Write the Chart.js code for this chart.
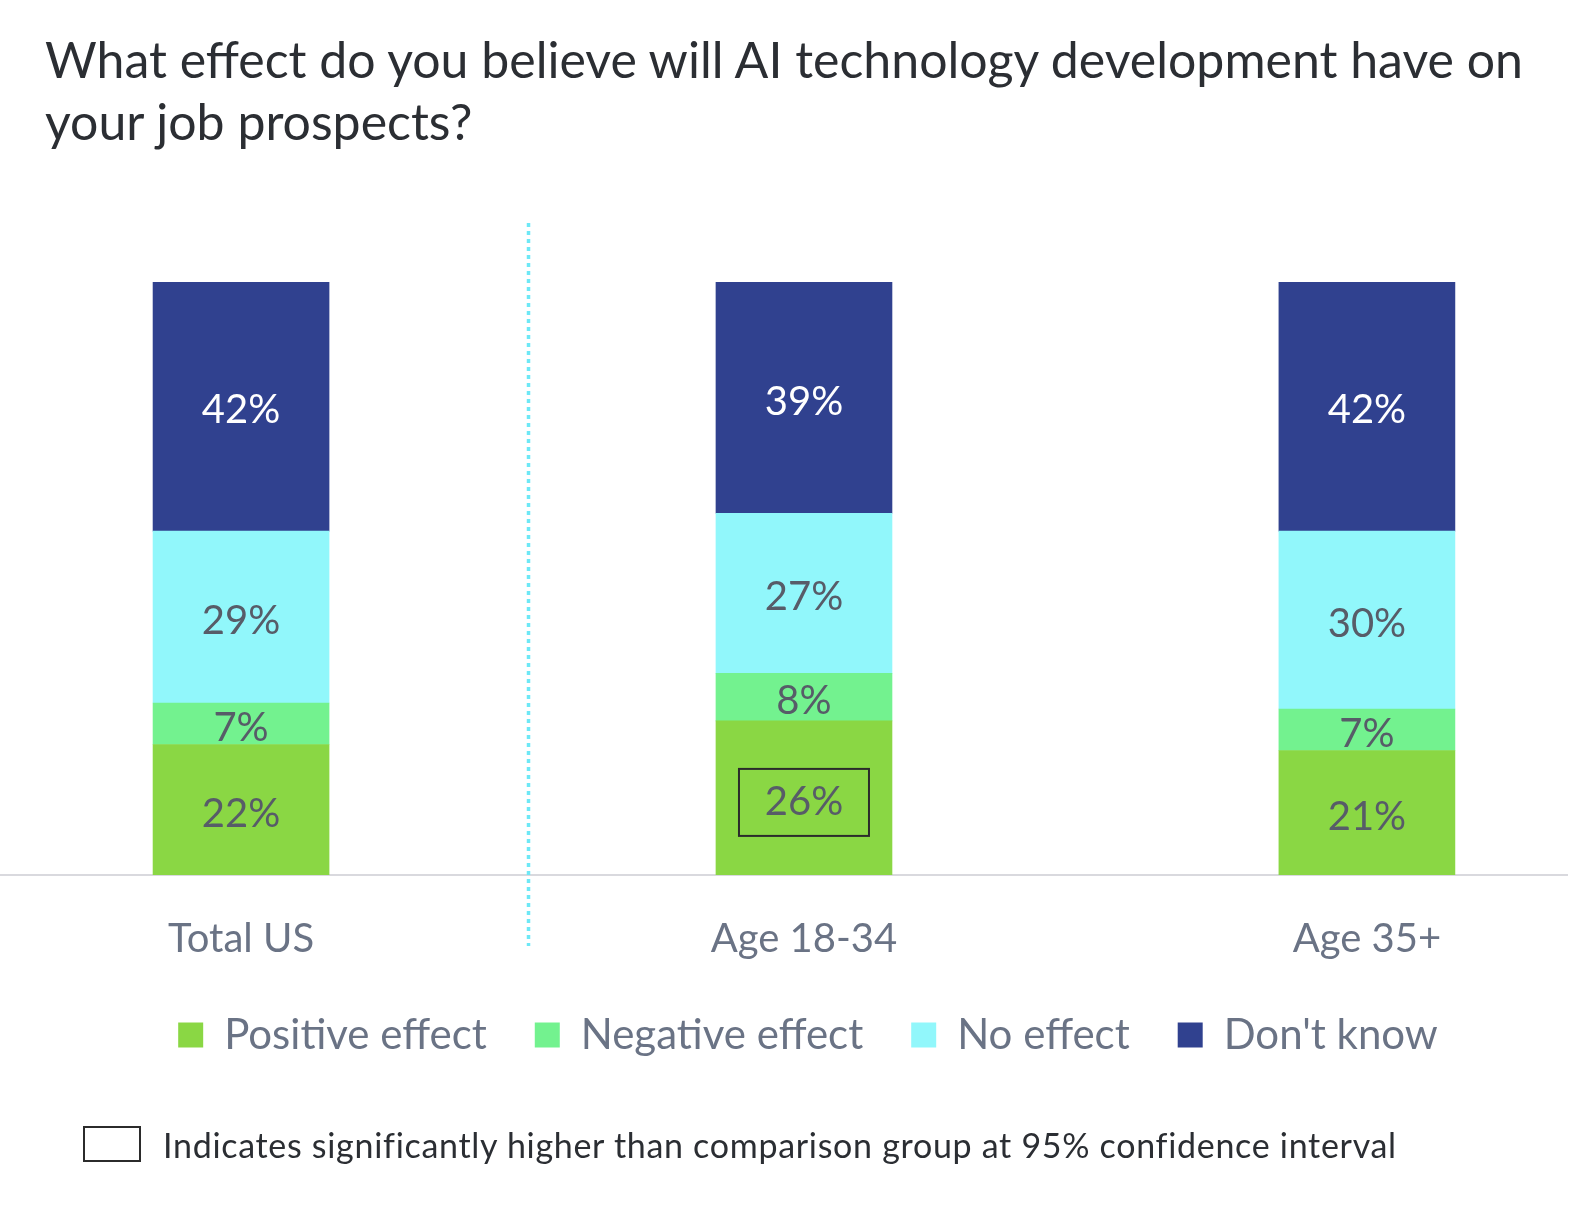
<!DOCTYPE html>
<html>
<head>
<meta charset="utf-8">
<script src="https://cdn.jsdelivr.net/npm/chart.js@4/dist/chart.umd.min.js"></script>
<style>
  html, body { margin: 0; padding: 0; background: #fff; }
  #wrap { position: relative; width: 1576px; height: 1226px; overflow: hidden; }
  #chart { position: absolute; left: 0; top: 0; }
  #title {
    position: absolute; left: 45px; top: 28px; width: 1520px;
    font-family: Lato, sans-serif; font-size: 50px; line-height: 62px; color: #2b2e33;
  }
  #note {
    position: absolute; left: 83px; top: 1126px; height: 36px;
    font-family: Lato, sans-serif; font-size: 34px; letter-spacing: 0.7px; color: #2b2e33;
    display: flex; align-items: center; white-space: nowrap;
  }
  #note .box { width: 54px; height: 32px; border: 2px solid #2b2b2b; margin-right: 22px; }
</style>
</head>
<body>
<div id="wrap">
  <canvas id="chart" width="1576" height="1226"></canvas>
  <div id="title">What effect do you believe will AI technology development have on your job prospects?</div>
  <div id="note"><div class="box"></div><span>Indicates significantly higher than comparison group at 95% confidence interval</span></div>
</div>
<script>
const categories = ['Total US', 'Age 18-34', 'Age 35+'];
const seriesNames = ['Positive effect', 'Negative effect', 'No effect', "Don't know"];
const positive = [22, 26, 21];
const negative = [7, 8, 7];
const noEffect = [29, 27, 30];
const dontKnow = [42, 39, 42];
// which value gets the "significantly higher" box: [series, category]
const significant = [[0, 1]];

const colors = ['#8ad744', '#73f28f', '#91f7fb', '#30418f'];
const labelColors = ['#575c68', '#575c68', '#575c68', '#ffffff'];
const FONT = 'Lato, sans-serif';

const values = [positive, negative, noEffect, dontKnow];

const valueLabels = {
  id: 'valueLabels',
  afterDatasetsDraw(chart) {
    const ctx = chart.ctx;
    ctx.save();
    ctx.font = '40px ' + FONT;
    ctx.textAlign = 'center';
    ctx.textBaseline = 'middle';
    chart.data.datasets.forEach((ds, i) => {
      chart.getDatasetMeta(i).data.forEach((bar, j) => {
        const cy = (bar.y + bar.base) / 2 + 4;
        ctx.fillStyle = labelColors[i];
        ctx.fillText(values[i][j] + '%', bar.x, cy);
        if (significant.some(s => s[0] === i && s[1] === j)) {
          ctx.strokeStyle = '#2b2b2b';
          ctx.lineWidth = 2;
          ctx.strokeRect(bar.x - 65, cy - 33, 130, 67);
        }
      });
    });
    ctx.restore();
  }
};

// baseline across the full width plus the dotted divider after "Total US"
const guides = {
  id: 'guides',
  beforeDatasetsDraw(chart) {
    const { ctx, chartArea, scales } = chart;
    const y0 = scales.y.getPixelForValue(0);
    ctx.save();
    ctx.strokeStyle = '#d9d9de';
    ctx.lineWidth = 2;
    ctx.beginPath();
    ctx.moveTo(0, y0);
    ctx.lineTo(1568, y0);
    ctx.stroke();

    const x = scales.x.getPixelForValue(0.5) + 6;
    ctx.strokeStyle = '#6ee8f6';
    ctx.lineWidth = 3.5;
    ctx.setLineDash([4, 4]);
    ctx.beginPath();
    ctx.moveTo(x, chartArea.top - 59);
    ctx.lineTo(x, chartArea.bottom + 71);
    ctx.stroke();
    ctx.restore();
  }
};

new Chart(document.getElementById('chart'), {
  type: 'bar',
  data: {
    datasets: values.map((vals, i) => ({
      label: seriesNames[i],
      data: vals.map((v, j) => ({ x: j, y: v })),
      backgroundColor: colors[i],
      borderWidth: 0,
      barThickness: 176
    }))
  },
  options: {
    responsive: false,
    animation: false,
    layout: { padding: { top: 282, left: 40, right: 0, bottom: 160 } },
    plugins: {
      legend: {
        position: 'bottom',
        labels: {
          boxWidth: 25,
          boxHeight: 25,
          padding: 48,
          color: '#6a7385',
          font: { family: FONT, size: 42 }
        }
      },
      tooltip: { enabled: false }
    },
    scales: {
      x: {
        type: 'linear',
        stacked: true,
        offset: false,
        bounds: 'data',
        min: -200 / 560,
        max: 1328 / 560,
        afterBuildTicks: (scale) => { scale.ticks = categories.map((c, i) => ({ value: i })); },
        afterFit: (scale) => { scale.height = 91; },
        grid: { display: false, drawTicks: false },
        border: { display: false },
        ticks: {
          padding: 40,
          color: '#6a7385',
          font: { family: FONT, size: 40 },
          callback: (value) => categories[value]
        }
      },
      y: {
        stacked: true,
        display: false,
        min: 0,
        max: 100
      }
    }
  },
  plugins: [valueLabels, guides]
});
</script>
</body>
</html>
